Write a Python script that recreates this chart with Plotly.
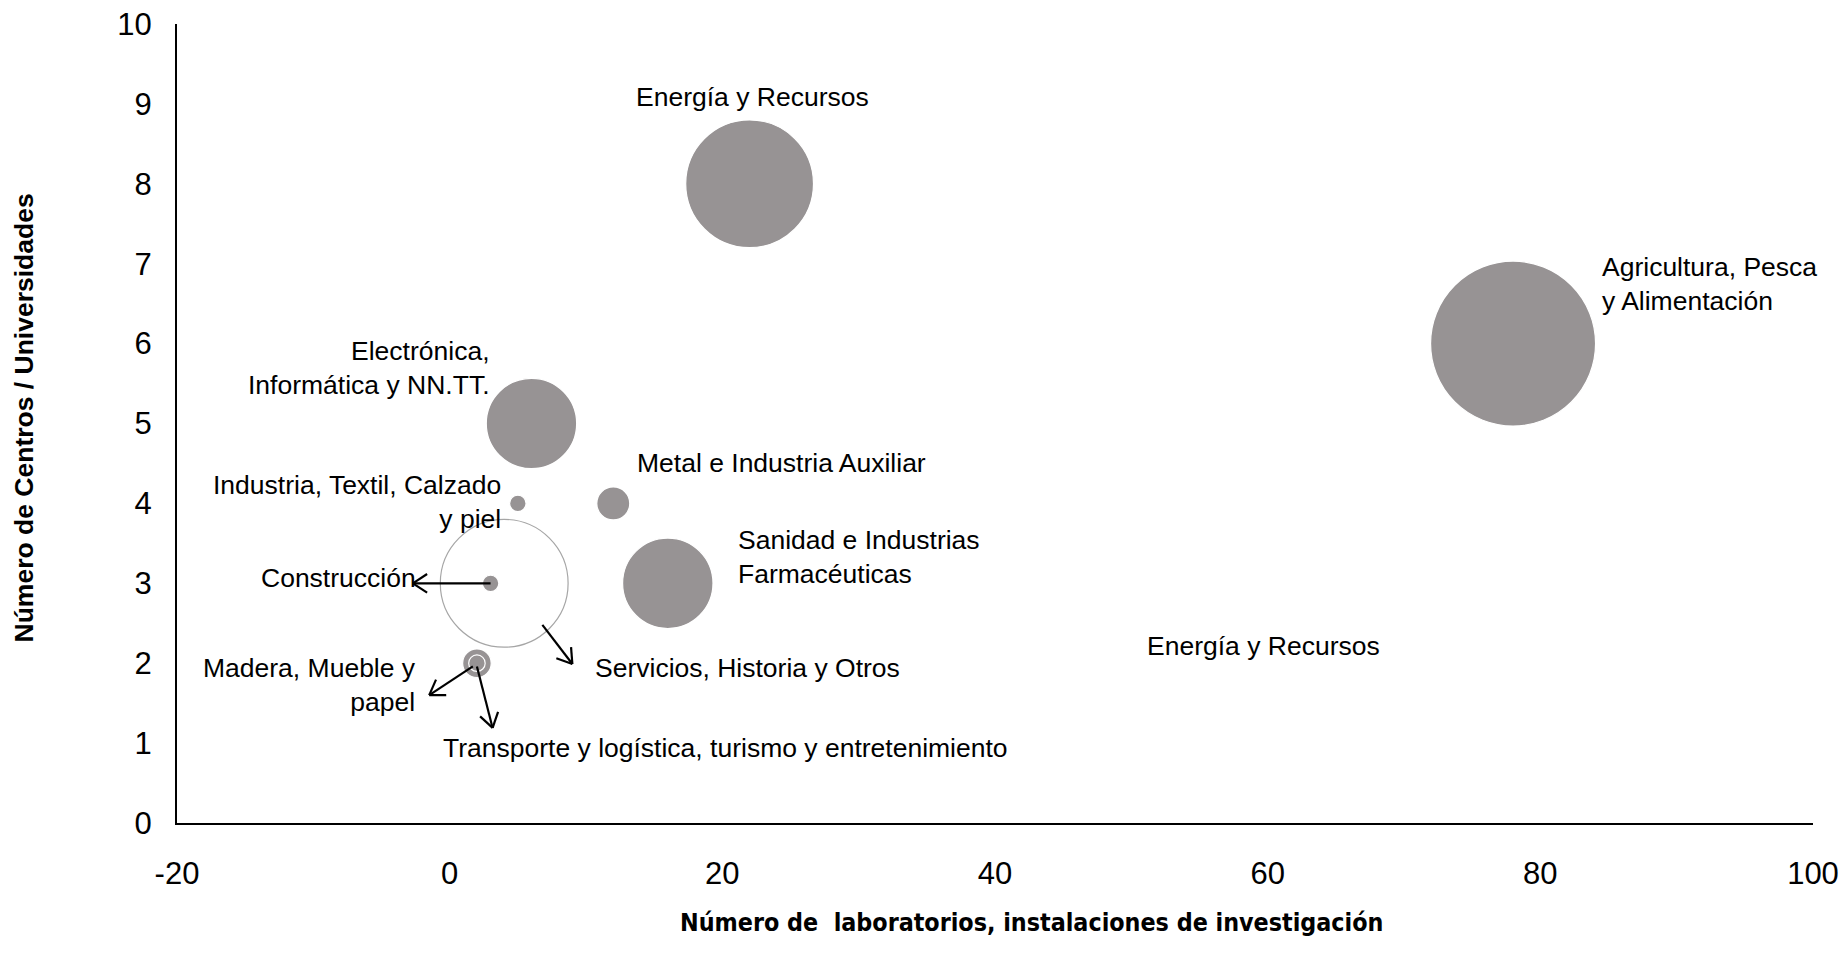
import math
import plotly.graph_objects as go

# ---- data ----
sectors = [
    "Servicios, Historia y Otros",
    "Agricultura, Pesca y Alimentación",
    "Energía y Recursos",
    "Electrónica, Informática y NN.TT.",
    "Sanidad e Industrias Farmacéuticas",
    "Metal e Industria Auxiliar",
    "Industria, Textil, Calzado y piel",
    "Construcción",
    "Madera, Mueble y papel",
    "Transporte y logística, turismo y entretenimiento",
]
labs = [4, 78, 22, 6, 16, 12, 5, 3, 2, 2]          # x
centros = [3, 6, 8, 5, 3, 4, 4, 3, 2, 2]          # y
bubble_size = [60, 100, 60, 30, 30, 4, 1, 1, 3, 1]
hollow = [True, False, False, False, False, False, False, False, False, False]

x_ticks = [-20, 0, 20, 40, 60, 80, 100]
y_ticks = list(range(0, 11))

x_title = "Número de  laboratorios, instalaciones de investigación"
y_title = "Número de Centros / Universidades"

# label placement (text, x, y, xanchor, align)
labels = [
    ("Energía y Recursos", 22.2, 9.09, "center", "center"),
    ("Agricultura, Pesca<br>y Alimentación", 84.4, 6.75, "left", "left"),
    ("Electrónica,<br>Informática y NN.TT.", 3.1, 5.69, "right", "right"),
    ("Metal e Industria Auxiliar", 13.6, 4.5, "left", "left"),
    ("Industria, Textil, Calzado<br>y piel", 3.9, 4.02, "right", "right"),
    ("Sanidad e Industrias<br>Farmacéuticas", 21.0, 3.33, "left", "left"),
    ("Construcción", -2.35, 3.07, "right", "right"),
    ("Servicios, Historia y Otros", 10.5, 1.94, "left", "left"),
    ("Madera, Mueble y<br>papel", -2.35, 1.73, "right", "right"),
    ("Transporte y logística, turismo y entretenimiento", -0.65, 0.94, "left", "left"),
    ("Energía y Recursos", 51.0, 2.22, "left", "left"),
]
# leader arrows (head_x, head_y, tail_x, tail_y)
arrows = [
    (-2.7, 3.0, 3.0, 3.0),
    (9.0, 1.99, 6.8, 2.48),
    (-1.5, 1.6, 1.7, 1.96),
    (3.15, 1.19, 2.0, 1.96),
]

# ---- layout geometry (page has 8px body margin) ----
W, H = 1831, 955
ML, MR, MT, MB = 169, 26, 16, 140
XR = [-20, 100]
YR = [0, 10]
pw = W - ML - MR
ph = H - MT - MB
sx = pw / (XR[1] - XR[0])   # px per x unit
sy = ph / (YR[1] - YR[0])   # px per y unit

GREY = "#979394"
fill = ["rgba(255,255,255,0)" if h else GREY for h in hollow]
edge = ["#A6A6A6" if h else "#FFFFFF" for h in hollow]

fig = go.Figure()
fig.add_trace(go.Scatter(
    x=labs, y=centros, mode="markers", text=sectors, hoverinfo="text",
    marker=dict(size=bubble_size, sizemode="area", sizeref=2 * 100 / 165 ** 2,
                color=fill, line=dict(color=edge, width=1.2), opacity=1),
    showlegend=False,
))

FONT = "Liberation Sans, Arial, sans-serif"
lab_font = dict(family=FONT, size=26.5, color="black")

annotations = []
for t, xx, yy, xa, al in labels:
    annotations.append(dict(text=t, x=xx, y=yy, xref="x", yref="y", xanchor=xa,
                            yanchor="middle", align=al, showarrow=False, font=lab_font))

shapes = []
LEG = 17.0
ANG = math.radians(33)
line_style = dict(color="black", width=2.2)
for hx, hy, tx, ty in arrows:
    shapes.append(dict(type="line", xref="x", yref="y", x0=tx, y0=ty, x1=hx, y1=hy,
                       line=line_style, layer="above"))
    dx = (hx - tx) * sx
    dy = (hy - ty) * sy
    n = math.hypot(dx, dy)
    ux, uy = dx / n, dy / n
    for s in (1, -1):
        c, si = math.cos(s * ANG), math.sin(s * ANG)
        rx = ux * c - uy * si
        ry = ux * si + uy * c
        px = hx - LEG * rx / sx
        py = hy - LEG * ry / sy
        shapes.append(dict(type="line", xref="x", yref="y", x0=hx, y0=hy, x1=px, y1=py,
                           line=line_style, layer="above"))

# axis titles
annotations.append(dict(text="<b>" + x_title + "</b>", xref="paper", yref="paper",
                        x=0.5226, y=-0.125, xanchor="center", yanchor="middle",
                        showarrow=False,
                        font=dict(family="Liberation Sans Narrow, Arial Narrow, DejaVu Sans Condensed, sans-serif",
                                  size=24.8, color="black")))
annotations.append(dict(text="<b>" + y_title + "</b>", xref="paper", yref="paper",
                        x=-0.0938, y=0.507, xanchor="center", yanchor="middle",
                        textangle=-90, showarrow=False,
                        font=dict(family=FONT, size=26.5, color="black")))

fig.update_layout(
    width=W, height=H,
    margin=dict(l=ML, r=MR, t=MT, b=MB, autoexpand=False),
    paper_bgcolor="white", plot_bgcolor="white",
    annotations=annotations, shapes=shapes,
    xaxis=dict(range=XR, tickvals=x_ticks, ticktext=[str(v) for v in x_ticks],
               showgrid=False, zeroline=False, showline=True, linecolor="black",
               linewidth=2, ticks="", ticklabelstandoff=22, automargin=False,
               ticklabeloverflow="allow",
               tickfont=dict(family=FONT, size=31, color="black")),
    yaxis=dict(range=YR, tickvals=y_ticks, ticktext=[str(v) for v in y_ticks],
               showgrid=False, zeroline=False, showline=True, linecolor="black",
               linewidth=2, ticks="", ticklabelstandoff=17, automargin=False,
               ticklabeloverflow="allow",
               tickfont=dict(family=FONT, size=31, color="black")),
)

fig.write_html("out.html")
